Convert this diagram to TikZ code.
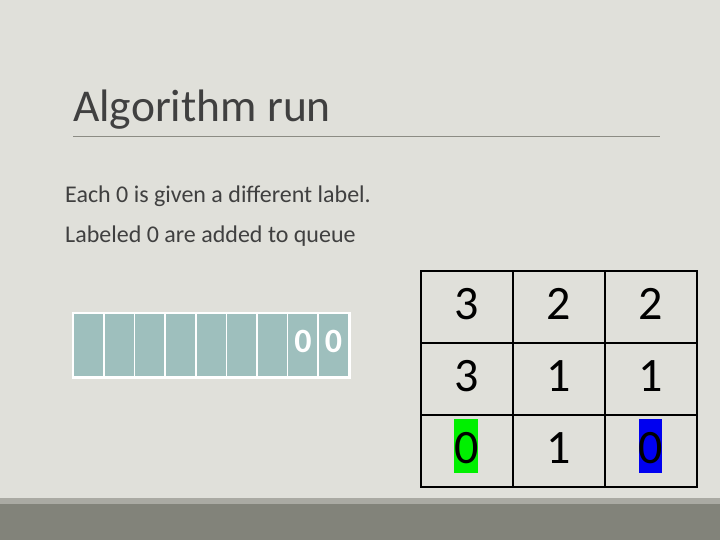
\documentclass[tikz,border=0pt]{standalone}
\usepackage{fontspec}
\setmainfont{Carlito}
\definecolor{bg}{HTML}{E0E0DA}
\definecolor{band}{HTML}{82837A}
\definecolor{bandlight}{HTML}{AAAAA3}
\definecolor{qcell}{HTML}{9EBFBD}
\definecolor{txt}{HTML}{404040}
\definecolor{rule}{HTML}{8C8C84}
\definecolor{hlgreen}{HTML}{00F000}
\definecolor{hlblue}{HTML}{0000F0}
\begin{document}
\begin{tikzpicture}[x=1pt,y=-1pt,
  qbox/.style={fill=qcell, draw=none, minimum width=29pt, minimum height=62pt, inner sep=0pt, anchor=north west},
  qtext/.style={text=white, font=\bfseries\fontsize{34}{36}\selectfont, inner sep=0pt, yshift=4pt},
  gcell/.style={draw=black, line width=1.5pt, minimum width=92pt, minimum height=72pt, inner sep=0pt, anchor=north west},
  gtext/.style={font=\fontsize{48}{52}\selectfont, text=black, inner sep=0pt, yshift=3pt},
  body/.style={anchor=base west, inner sep=0pt, text=txt, font=\fontsize{24}{28}\selectfont}]
\useasboundingbox (0,0) rectangle (720,540);
\fill[bg] (0,0) rectangle (720,540);
\fill[bandlight] (0,498) rectangle (720,504);
\fill[band] (0,504) rectangle (720,540);
% title
\node[anchor=base west, inner sep=0pt, text=txt, font=\fontsize{45.5}{50}\selectfont] (title) at (73,122) {Algorithm run};
\draw[rule, line width=0.8pt] (73,136) -- (660,136);
\node[body] (l1) at (65,203) {Each 0 is given a different label.};
\node[body] (l2) at (65,243) {Labeled 0 are added to queue};
% queue
\fill[white] (72,312) rectangle (351,379);
\foreach \i in {0,...,8}{
  \node[qbox] (q\i) at (74+\i*30.6,314) {};
}
\node[qtext] (q7t) at (q7.center) {0};
\node[qtext] (q8t) at (q8.center) {0};
% grid highlights
\fill[hlgreen] (454,419) rectangle (478,473);
\fill[hlblue] (639,419) rectangle (662,473);
% grid
\foreach \r/\a/\b/\c in {0/3/2/2,1/3/1/1,2/0/1/0}{
  \node[gcell] (g\r a) at (420,270+\r*72) {};
  \node[gcell] (g\r b) at (512,270+\r*72) {};
  \node[gcell] (g\r c) at (604,270+\r*72) {};
  \node[gtext] (t\r a) at (g\r a.center) {\a};
  \node[gtext] (t\r b) at (g\r b.center) {\b};
  \node[gtext] (t\r c) at (g\r c.center) {\c};
}
\end{tikzpicture}
\end{document}
